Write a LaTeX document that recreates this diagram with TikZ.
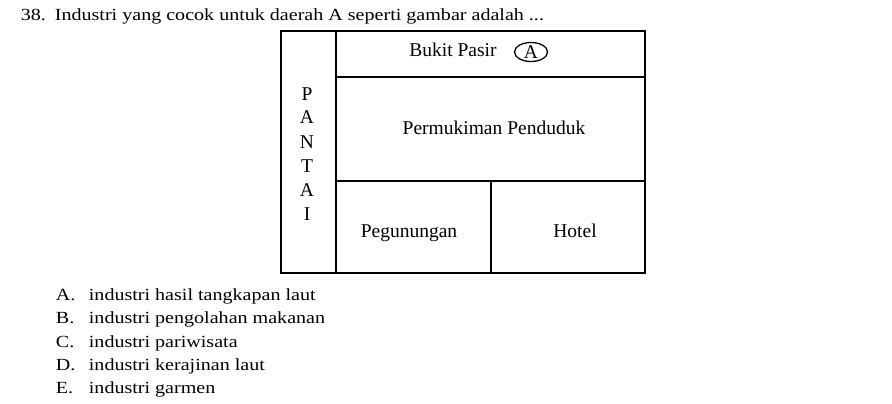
\documentclass[tikz,border=0pt]{standalone}
\usepackage{fontspec}
\setmainfont{Liberation Serif}
\newfontfamily\widefont[FakeStretch=1.18]{Liberation Serif}
\usetikzlibrary{calc,shapes.geometric}

\begin{document}
\begin{tikzpicture}[x=1pt,y=-1pt,line width=1.8pt,
      txt/.style={inner sep=0pt,anchor=base,font=\fontsize{19.5}{22}\selectfont},
      opt/.style={inner sep=0pt,anchor=base west,font=\widefont\fontsize{17}{20}\selectfont},
      ring/.style={inner sep=0pt,ellipse,draw,line width=1.3pt,minimum width=33pt,minimum height=19pt,
        font=\fontsize{19.5}{22}\selectfont}]
      \useasboundingbox (0,0) rectangle (892,404);

      % question
      \node[opt] (num) at (20, 21) {38.};
      \node[opt] (q) at (54, 21) {Industri yang cocok untuk daerah A seperti gambar adalah ...};

      % map
      \coordinate (nw) at (281, 31);
      \coordinate (se) at (645, 273);
      \draw (nw) rectangle (se);
      \draw (336, 31) -- (336, 273);
      \draw (336, 77) -- (645, 77);
      \draw (336, 181) -- (645, 181);
      \draw (491, 181) -- (491, 273);

      \node[txt] (bukit) at (453, 57) {Bukit Pasir};
      \node[ring] (a) at (531, 52) {A};
      \node[txt] (mukim) at (494, 134) {Permukiman Penduduk};
      \node[txt] (gunung) at (409, 237) {Pegunungan};
      \node[txt] (hotel) at (575, 237) {Hotel};

      \node[txt] (p1) at (307, 100) {P};
      \node[txt] (p2) at (307, 124) {A};
      \node[txt] (p3) at (307, 148) {N};
      \node[txt] (p4) at (307, 172) {T};
      \node[txt] (p5) at (307, 196) {A};
      \node[txt] (p6) at (307, 220) {I};

      % answers
      \node[opt] (la) at (55, 300) {A.};
      \node[opt] (lb) at (55, 323) {B.};
      \node[opt] (lc) at (55, 347) {C.};
      \node[opt] (ld) at (55, 370) {D.};
      \node[opt] (le) at (55, 393) {E.};
      \node[opt] (ta) at (88, 300) {industri hasil tangkapan laut};
      \node[opt] (tb) at (88, 323) {industri pengolahan makanan};
      \node[opt] (tc) at (88, 347) {industri pariwisata};
      \node[opt] (td) at (88, 370) {industri kerajinan laut};
      \node[opt] (te) at (88, 393) {industri garmen};
\end{tikzpicture}
\end{document}
